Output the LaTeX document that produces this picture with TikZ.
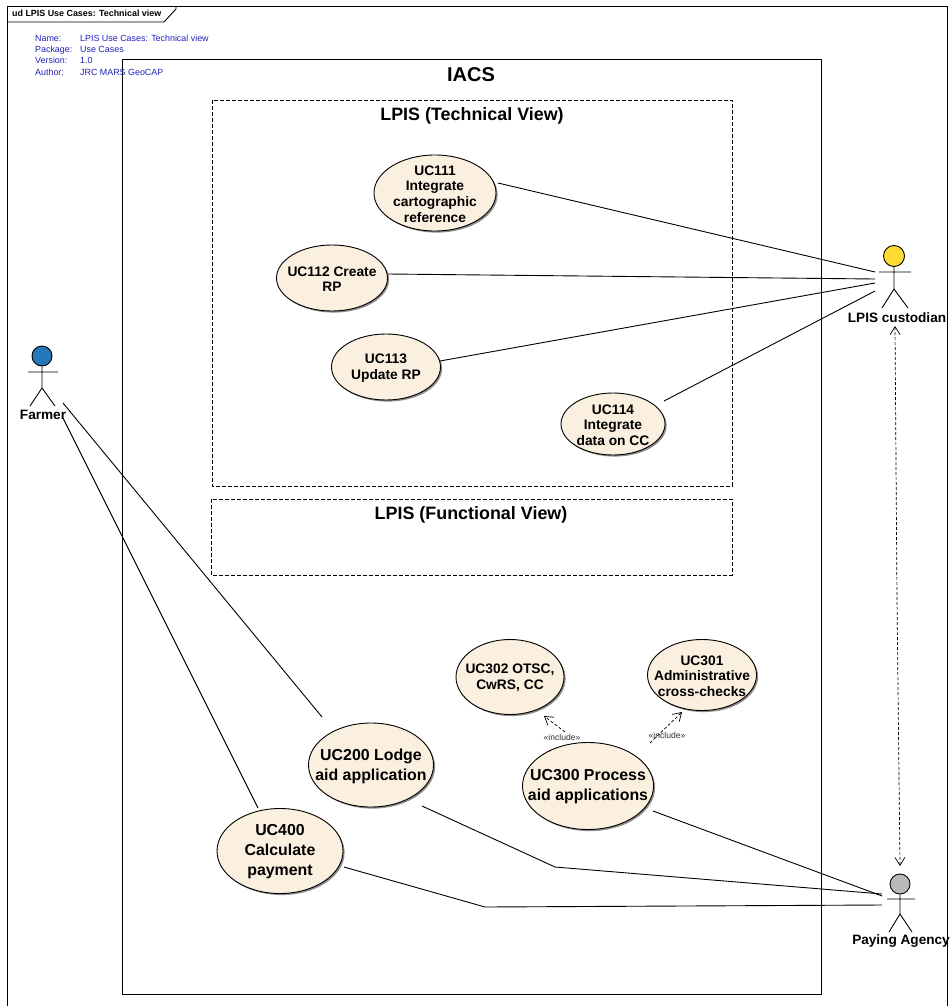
\documentclass[tikz,border=0pt]{standalone}
\usepackage{fontspec}
\setmainfont{Liberation Sans}
\usetikzlibrary{shapes.geometric,arrows.meta}
\definecolor{ucfill}{HTML}{FBF0E0}
\definecolor{metablue}{HTML}{2222BB}
\tikzset{
 x=1pt,y=-1pt,
 usecase/.style={ellipse,draw=black,line width=0.9pt,fill=ucfill,inner sep=0pt,
   preaction={draw=none,fill=black!45,transform canvas={xshift=1.6pt,yshift=-1.6pt}}},
 uctext/.style={align=center,inner sep=0pt,yshift=-1pt,font=\fontsize{13.8}{15.6}\selectfont\bfseries},
 uctextbig/.style={align=center,inner sep=0pt,yshift=-1pt,font=\fontsize{15.9}{20}\selectfont\bfseries},
 assoc/.style={line width=0.9pt,black},
 incl/.style={line width=0.7pt,densely dashed,-{Straight Barb[length=8pt,width=10pt,line width=0.7pt]}},
 dep/.style={line width=0.7pt,densely dashed,{Straight Barb[length=8pt,width=10pt,line width=0.7pt]}-{Straight Barb[length=8pt,width=10pt,line width=0.7pt]}},
 boxline/.style={draw=black,line width=0.9pt},
 dashbox/.style={draw=black,line width=0.9pt,dashed,dash pattern=on 4pt off 2pt},
 title/.style={inner sep=0pt},
 meta/.style={font=\fontsize{8.9}{10}\selectfont,text=metablue,anchor=base west,inner sep=0pt},
 inclabel/.style={font=\fontsize{8.6}{10}\selectfont,text=black!80,inner sep=0pt},
 head/.style={circle,draw=black,line width=0.9pt,inner sep=0pt,minimum size=21pt},
 limb/.style={line width=0.9pt,black},
 actorname/.style={font=\fontsize{13.6}{15}\selectfont\bfseries,inner sep=0pt},
}
\begin{document}
\begin{tikzpicture}
\useasboundingbox (0,0) rectangle (950,1006);
\clip (0,0) rectangle (950,1006);
\fill[white] (0,0) rectangle (950,1006);
% frame
\draw[boxline] (7,6) -- (947,6) -- (947,1012) -- (7,1012) -- cycle;
\draw[boxline] (7,22) -- (164,22) -- (176,9) -- (176,6);
\node[anchor=base west,inner sep=0pt,font=\fontsize{8.9}{10}\selectfont\bfseries] (frametitle) at (12,16.5) {ud LPIS Use Cases: Technical view};
% boxes
\draw[boxline] (122,59) rectangle (821,994);
\draw[dashbox] (212,100) rectangle (732,486);
\draw[dashbox] (211,499) rectangle (732,575);
% meta
\node[meta] (m1) at (35,41.5) {Name:};    \node[meta] (v1) at (80,41.5) {LPIS Use Cases: Technical view};
\node[meta] (m2) at (35,52.5) {Package:}; \node[meta] (v2) at (80,52.5) {Use Cases};
\node[meta] (m3) at (35,63.5) {Version:}; \node[meta] (v3) at (80,63.5) {1.0};
\node[meta] (m4) at (35,75.5) {Author:};  \node[meta] (v4) at (80,75.5) {JRC MARS GeoCAP};
% titles
\node[title,font=\fontsize{20}{24}\selectfont\bfseries] (iacs) at (471,75) {IACS};
\node[title,font=\fontsize{17.9}{21}\selectfont\bfseries] (tv) at (472,116) {LPIS (Technical View)};
\node[title,font=\fontsize{17.9}{21}\selectfont\bfseries] (fv) at (471,515) {LPIS (Functional View)};
% use cases
\node[usecase,minimum width=122pt,minimum height=76pt] (uc111) at (435,193) {};
\node[uctext] (uc111t) at (uc111) {UC111\\Integrate\\cartographic\\reference};
\node[usecase,minimum width=111pt,minimum height=66pt] (uc112) at (332,278) {};
\node[uctext] (uc112t) at (uc112) {UC112 Create\\RP};
\node[usecase,minimum width=109pt,minimum height=66pt] (uc113) at (386,367) {};
\node[uctext] (uc113t) at (uc113) {UC113\\Update RP};
\node[usecase,minimum width=104pt,minimum height=62pt] (uc114) at (613,424) {};
\node[uctext] (uc114t) at (uc114) {UC114\\Integrate\\data on CC};
\node[usecase,minimum width=108pt,minimum height=75pt] (uc302) at (510,677) {};
\node[uctext] (uc302t) at (uc302) {UC302 OTSC,\\CwRS, CC};
\node[usecase,minimum width=109pt,minimum height=71pt] (uc301) at (702,675) {};
\node[uctext] (uc301t) at (uc301) {UC301\\Administrative\\cross-checks};
\node[usecase,minimum width=131pt,minimum height=87pt] (uc300) at (588,786) {};
\node[uctextbig] (uc300t) at (uc300) {UC300 Process\\aid applications};
\node[usecase,minimum width=125pt,minimum height=84pt] (uc200) at (371,765) {};
\node[uctextbig] (uc200t) at (uc200) {UC200 Lodge\\aid application};
\node[usecase,minimum width=126pt,minimum height=85pt] (uc400) at (280,851) {};
\node[uctextbig] (uc400t) at (uc400) {UC400\\Calculate\\payment};
% actors
\node[head,fill=yellow!70!orange!80!white] (cust) at (894,256) {};
\draw[limb] (879,272) -- (911,272) (cust.south) -- (894,289) -- (882,308) (894,289) -- (908,308);
\node[actorname] (custname) at (897,318) {LPIS custodian};
\node[head,fill=black!28,minimum size=20pt] (pay) at (900,884) {};
\draw[limb] (887,899) -- (915,899) (pay.south) -- (900,914) -- (889,932) (900,914) -- (912,932);
\node[actorname] (payname) at (901,941) {Paying Agency};
\node[head,fill=cyan!60!blue!90!black,minimum size=20pt] (farm) at (42,356) {};
\draw[limb] (28,372) -- (58,372) (farm.south) -- (42,388) -- (30,406) (42,388) -- (55,406);
\node[actorname] (farmname) at (43,414.5) {Farmer};
% connector ends
\coordinate (c1) at (875,272); \coordinate (c2) at (875,279);
\coordinate (c3) at (875,283); \coordinate (c4) at (875,291);
\coordinate (f1) at (63,403);  \coordinate (f2) at (63,418);
\coordinate (p1) at (882,894); \coordinate (p2) at (882,896); \coordinate (p3) at (882,905);
\coordinate (k1) at (555,867); \coordinate (k2) at (485,907);
\coordinate (u111) at (498,183); \coordinate (u112) at (388,274);
\coordinate (u113) at (440,361); \coordinate (u114) at (664,401);
\coordinate (u200a) at (322,717); \coordinate (u400a) at (258,808);
\coordinate (u200b) at (422,806); \coordinate (u400b) at (344,867); \coordinate (u300b) at (653,811);
\coordinate (i1a) at (565,732); \coordinate (i1b) at (544,716);
\coordinate (i2a) at (650,743); \coordinate (i2b) at (682,712);
\coordinate (d1) at (895,326); \coordinate (d2) at (897,600); \coordinate (d3) at (900,866);
% connectors
\draw[assoc] (u111) -- (c1);
\draw[assoc] (u112) -- (c2);
\draw[assoc] (u113) -- (c3);
\draw[assoc] (u114) -- (c4);
\draw[assoc] (f1) -- (u200a);
\draw[assoc] (f2) -- (u400a);
\draw[assoc] (u200b) -- (k1) -- (p1);
\draw[assoc] (u400b) -- (k2) -- (p3);
\draw[assoc] (u300b) -- (p2);
\draw[incl] (i1a) -- (i1b);
\draw[incl] (i2a) -- (i2b);
\draw[dep] (d1) -- (d2) -- (d3);
\node[inclabel] (il1) at (562,737.5) {«include»};
\node[inclabel] (il2) at (667,735.5) {«include»};
\end{tikzpicture}
\end{document}
